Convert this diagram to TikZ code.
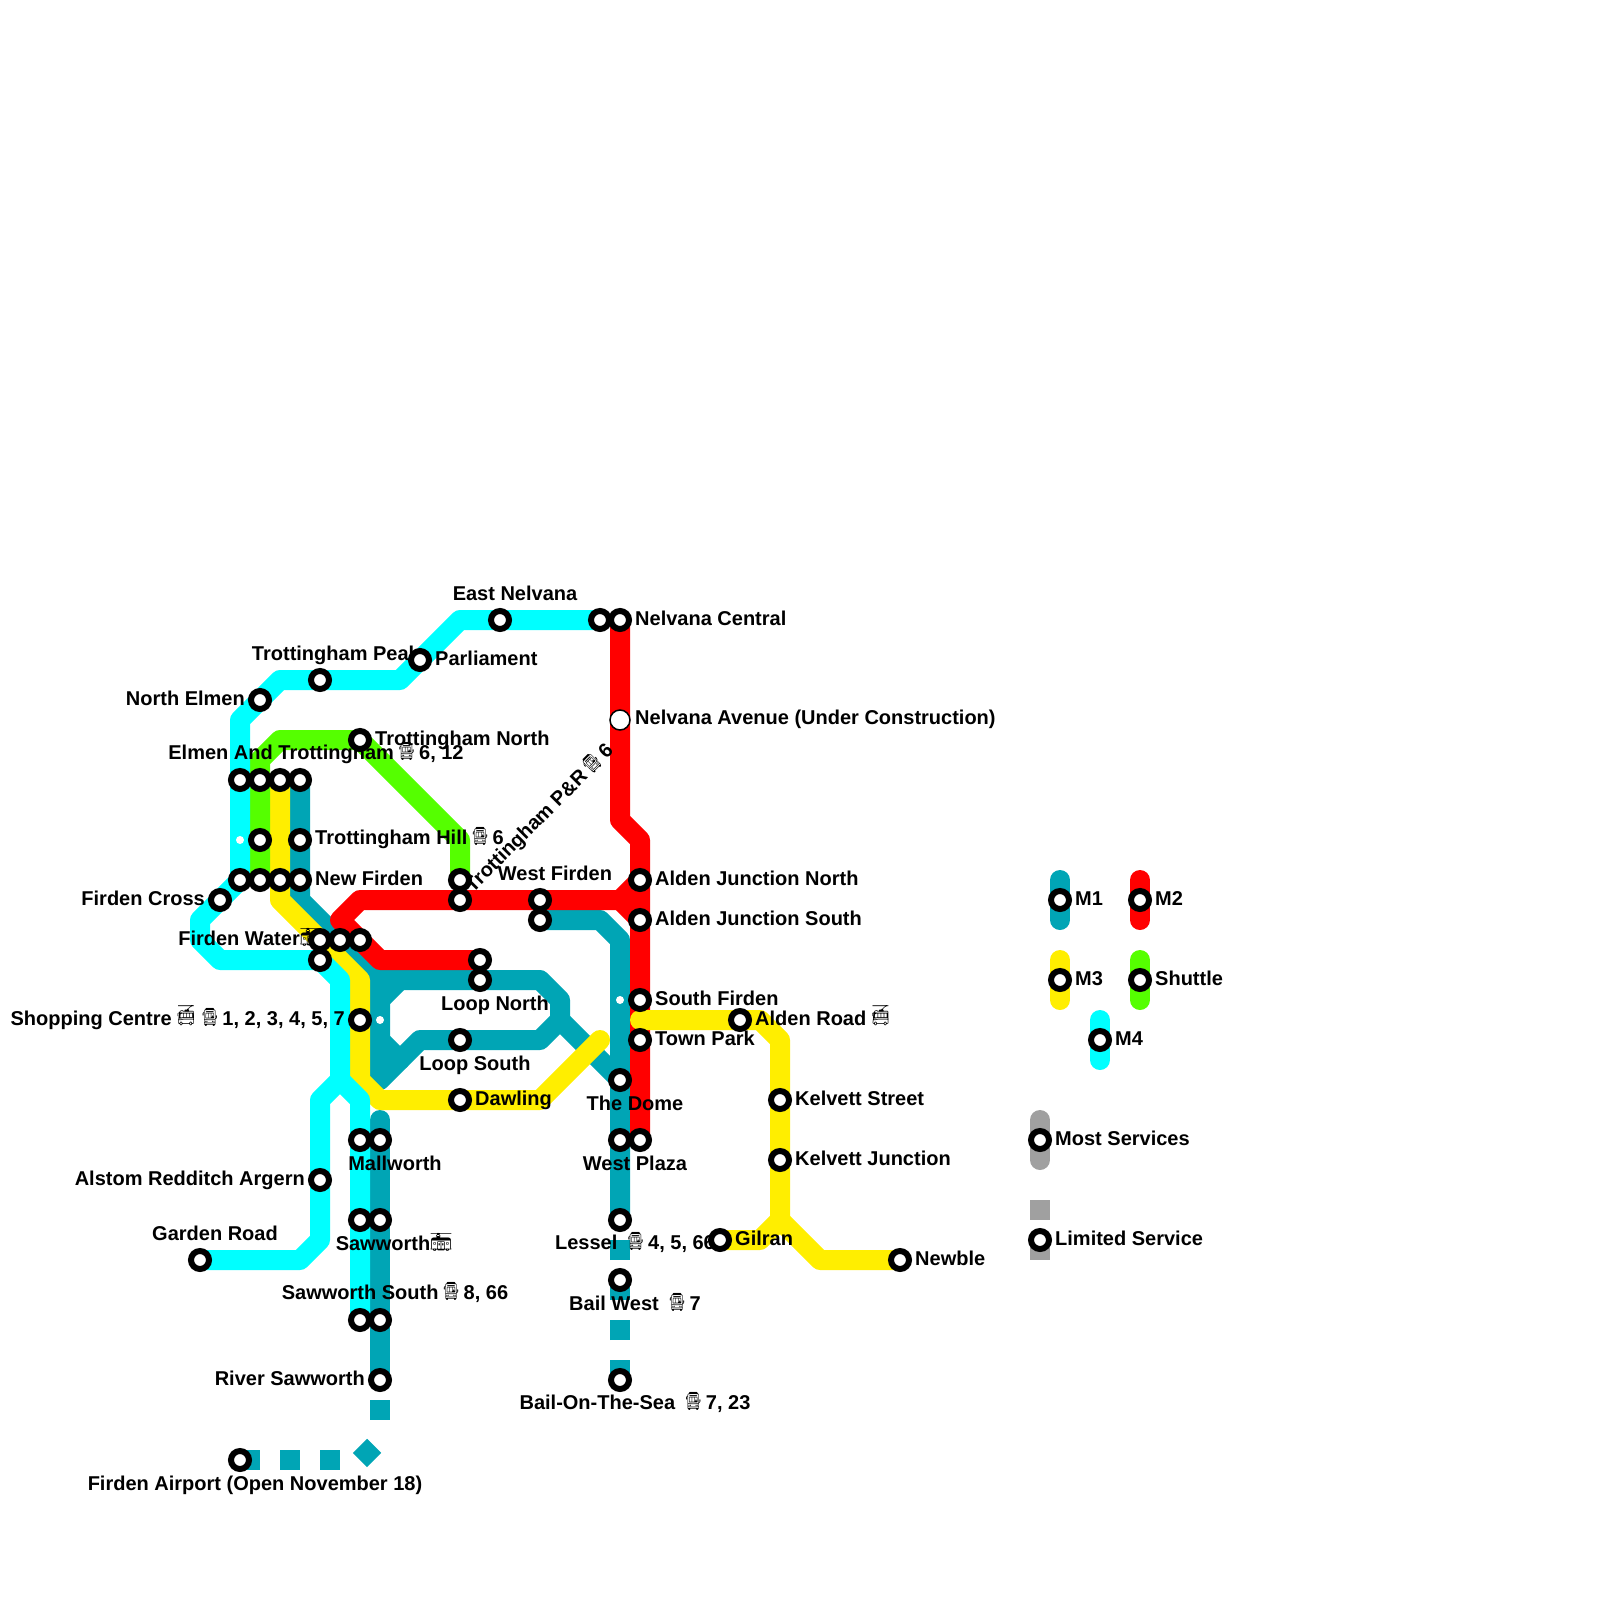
\documentclass[tikz,border=0pt]{standalone}
\usepackage{fontspec}
\setmainfont{Liberation Sans}[BoldFont={Liberation Sans Bold}]
\newfontfamily\emojifont{Noto Emoji}
\usepackage{xcolor}
\usetikzlibrary{positioning,backgrounds,calc}
\definecolor{lineone}{RGB}{0,165,181}
\definecolor{linetwo}{RGB}{255,0,0}
\definecolor{linethree}{RGB}{255,238,0}
\definecolor{lineshuttle}{RGB}{85,255,0}
\definecolor{linefour}{RGB}{0,255,255}
\definecolor{linegrey}{RGB}{160,160,160}
\newcommand{\glyphicon}[4]{\kern#3\raisebox{-1pt}[0pt][0pt]{\resizebox{#1}{#2}{\raisebox{\depth}{\emojifont\char#4}}}\kern#3}
\newcommand{\bus}{\glyphicon{16.5pt}{18pt}{-1.2pt}{"1F68D}}
\newcommand{\trolley}{\glyphicon{20pt}{20pt}{-1.5pt}{"1F68E}}
\newcommand{\tram}{\glyphicon{26pt}{18pt}{-2pt}{"1F68B}}

\begin{document}
\begin{tikzpicture}[x=1pt,y=-1pt,
  stn/.style={circle, draw=black, fill=white, line width=6pt, minimum size=18pt, inner sep=0pt},
  planned/.style={circle, draw=black, fill=white, line width=1.5pt, minimum size=20pt, inner sep=0pt},
  dotstn/.style={circle, fill=white, minimum size=8pt, inner sep=0pt},
  lbl/.style={font=\bfseries\fontsize{20}{22}\selectfont, inner sep=0pt, text=black},
  rt/.style={lbl, anchor=west},
  lt/.style={lbl, anchor=east},
  track/.style={line width=20pt, line join=round, line cap=round},
  sqtrack/.style={line width=20pt, line join=miter, dash pattern=on 20pt off 20pt}
]
\useasboundingbox (0,0) rectangle (1600,1600);

% labels
\node[rt] (lblNelvana) at (635,618) {Nelvana Central};
\node[lbl, anchor=center] (lblEast) at (515,593) {East Nelvana};
\node[rt] (lblParl) at (435,658) {Parliament};
\node[lbl, anchor=east] (lblPeak) at (420,655) {Trottingham Peak};
\node[lt] (lblNorth) at (245,698) {North Elmen};
\node[rt] (lblTrotN) at (375,740) {Trottingham North};
\node[rt] (lblAve) at (635,719) {Nelvana Avenue (Under Construction)};
\node[lbl, anchor=center] (lblElmen) at (316,754) {Elmen And Trottingham \bus\ 6, 12};
\node[rt] (lblHill) at (315,839) {Trottingham Hill \bus\ 6};
\node[rt] (lblNewFirden) at (315,878) {New Firden};
\node[lt] (lblCross) at (205,898) {Firden Cross};
\node[lbl, anchor=center, rotate=45] (lblPark) at (540,819) {Trottingham P\&R \bus\ 6};
\node[lbl, anchor=center] (lblWest) at (555,873) {West Firden};
\node[rt] (lblAldN) at (655,878) {Alden Junction North};
\node[rt] (lblAldS) at (655,918) {Alden Junction South};
\node[lt] (lblWater) at (322,938) {Firden Water\tram};
\node[rt] (lblSouth) at (655,998) {South Firden};
\node[lbl, anchor=center] (lblLoopN) at (495,1005) {Loop North};
\node[lt] (lblShop) at (345,1020) {Shopping Centre \trolley\ \hspace{3pt}\bus\ 1, 2, 3, 4, 5, 7};
\node[rt] (lblAlden) at (755,1018) {Alden Road \trolley};
\node[rt] (lblTown) at (655,1038) {Town Park};
\node[lbl, anchor=center] (lblLoopS) at (475,1065) {Loop South};
\node[rt] (lblDawl) at (475,1100) {Dawling};
\node[lbl, anchor=center] (lblDome) at (635,1103) {The Dome};
\node[rt] (lblKelS) at (795,1098) {Kelvett Street};
\node[lbl, anchor=center] (lblMall) at (395,1163) {Mallworth};
\node[lbl, anchor=center] (lblPlaza) at (635,1163) {West Plaza};
\node[lt] (lblAlst) at (305,1180) {Alstom Redditch Argern};
\node[rt] (lblKelJ) at (795,1158) {Kelvett Junction};
\node[lbl, anchor=center] (lblSaw) at (394,1243) {Sawworth\tram};
\node[lbl, anchor=center] (lblLess) at (635,1244) {Lessel\ \ \bus\ 4, 5, 66};
\node[rt] (lblGil) at (735,1238) {Gilran};
\node[lbl, anchor=center] (lblGarden) at (215,1233) {Garden Road};
\node[rt] (lblNewble) at (915,1258) {Newble};
\node[lbl, anchor=center] (lblSawS) at (395,1294) {Sawworth South \bus\ 8, 66};
\node[lbl, anchor=center] (lblBailW) at (635,1303) {Bail West\ \ \bus\ 7};
\node[lt] (lblRiver) at (365,1378) {River Sawworth};
\node[lbl, anchor=center] (lblBailS) at (635,1404) {Bail-On-The-Sea\ \ \bus\ 7, 23};
\node[lbl, anchor=center] (lblAir) at (255,1485) {Firden Airport (Open November 18)};
\node[rt] (lblM1) at (1075,899) {M1};
\node[rt] (lblM2) at (1155,899) {M2};
\node[rt] (lblM3) at (1075,979) {M3};
\node[rt] (lblShut) at (1155,978) {Shuttle};
\node[rt] (lblM4) at (1115,1039) {M4};
\node[rt] (lblMost) at (1055,1138) {Most Services};
\node[rt] (lblLim) at (1055,1238) {Limited Service};

% stations
\node[stn] (nelvanaW) at (600,620) {};
\node[stn] (nelvana) at (620,620) {};
\node[stn] (eastnel) at (500,620) {};
\node[stn] (parliament) at (420,660) {};
\node[stn] (peak) at (320,680) {};
\node[stn] (northelmen) at (260,700) {};
\node[stn] (trotnorth) at (360,740) {};
\node[planned] (nelvanaave) at (620,720) {};
\node[stn] (elmenA) at (240,780) {};
\node[stn] (elmenB) at (260,780) {};
\node[stn] (elmenC) at (280,780) {};
\node[stn] (elmenD) at (300,780) {};
\node[dotstn] (hillA) at (240,840) {};
\node[stn] (hillB) at (260,840) {};
\node[stn] (hillD) at (300,840) {};
\node[stn] (newfirA) at (240,880) {};
\node[stn] (newfirB) at (260,880) {};
\node[stn] (newfirC) at (280,880) {};
\node[stn] (newfirD) at (300,880) {};
\node[stn] (cross) at (220,900) {};
\node[stn] (parkA) at (460,880) {};
\node[stn] (parkB) at (460,900) {};
\node[stn] (westfirA) at (540,900) {};
\node[stn] (westfirB) at (540,920) {};
\node[stn] (aldenN) at (640,880) {};
\node[stn] (aldenS) at (640,920) {};
\node[stn] (waterA) at (320,940) {};
\node[stn] (waterB) at (340,940) {};
\node[stn] (waterC) at (360,940) {};
\node[stn] (waterD) at (320,960) {};
\node[stn] (loopnorthA) at (480,960) {};
\node[stn] (loopnorthB) at (480,980) {};
\node[dotstn] (southfirA) at (620,1000) {};
\node[stn] (southfir) at (640,1000) {};
\node[stn] (shopping) at (360,1020) {};
\node[dotstn] (shoppingB) at (380,1020) {};
\node[stn] (aldenroad) at (740,1020) {};
\node[stn] (loopsouth) at (460,1040) {};
\node[stn] (townpark) at (640,1040) {};
\node[stn] (dome) at (620,1080) {};
\node[stn] (dawling) at (460,1100) {};
\node[stn] (kelvettS) at (780,1100) {};
\node[stn] (mallA) at (360,1140) {};
\node[stn] (mallB) at (380,1140) {};
\node[stn] (plazaA) at (620,1140) {};
\node[stn] (plazaB) at (640,1140) {};
\node[stn] (kelvettJ) at (780,1160) {};
\node[stn] (alstom) at (320,1180) {};
\node[stn] (sawA) at (360,1220) {};
\node[stn] (sawB) at (380,1220) {};
\node[stn] (lessel) at (620,1220) {};
\node[stn] (gilran) at (720,1240) {};
\node[stn] (garden) at (200,1260) {};
\node[stn] (newble) at (900,1260) {};
\node[stn] (bailwest) at (620,1280) {};
\node[stn] (sawsouthA) at (360,1320) {};
\node[stn] (sawsouthB) at (380,1320) {};
\node[stn] (river) at (380,1380) {};
\node[stn] (bailsea) at (620,1380) {};
\node[stn] (airport) at (240,1460) {};
% key
\node[stn] (keyM1) at (1060,900) {};
\node[stn] (keyM2) at (1140,900) {};
\node[stn] (keyM3) at (1060,980) {};
\node[stn] (keyShuttle) at (1140,980) {};
\node[stn] (keyM4) at (1100,1040) {};
\node[stn] (keyMost) at (1040,1140) {};
\node[stn] (keyLimited) at (1040,1240) {};

% lines under the stations
\begin{scope}[on background layer]
\draw[track, lineone] (elmenD.center) -- (newfirD.center) -- (300,900) -- (380,980) -- (loopnorthB.center) -- (540,980) -- (560,1000) -- (560,1020) -- (540,1040) -- (420,1040) -- (380,1080) -- (380,980);
\draw[track, lineone] (380,1000) -- (400,980);
\draw[track, lineone] (380,1040) -- (400,1060);
\draw[track, lineone] (560,1020) -- (dome.center);
\draw[track, lineone] (westfirB.center) -- (600,920) -- (620,940) -- (lessel.center);
\draw[track, lineone] (380,1120) -- (river.center);
\draw[sqtrack, lineone] (bailsea.center) -- (lessel.center);
\draw[sqtrack, lineone, dash phase=20pt] (river.center) -- (380,1440);
\draw[sqtrack, lineone] (airport.center) -- (360,1460);
\draw[sqtrack, lineone] (360,1460) -- (380,1440);
\draw[track, linetwo] (nelvana.center) -- (620,820) -- (640,840) -- (plazaB.center);
\draw[track, linetwo] (aldenN.center) -- (620,900) -- (360,900) -- (340,920) -- (380,960) -- (loopnorthA.center);
\draw[track, linetwo] (aldenS.center) -- (620,900);
\draw[track, linethree] (elmenC.center) -- (280,900) -- (360,980) -- (360,1080) -- (380,1100) -- (540,1100) -- (600,1040);
\draw[track, linethree] (640,1020) -- (760,1020) -- (780,1040) -- (780,1220) -- (760,1240) -- (gilran.center);
\draw[track, linethree] (780,1220) -- (820,1260) -- (newble.center);
\draw[track, lineshuttle] (newfirB.center) -- (260,760) -- (280,740) -- (360,740) -- (460,840) -- (parkA.center);
\draw[track, linefour] (garden.center) -- (300,1260) -- (320,1240) -- (320,1100) -- (340,1080) -- (360,1100) -- (sawsouthA.center);
\draw[track, linefour] (340,1080) -- (340,980) -- (waterD.center) -- (220,960) -- (200,940) -- (200,920) -- (cross.center) -- (newfirA.center) -- (240,720) -- (260,700) -- (280,680) -- (400,680) -- (420,660) -- (460,620) -- (nelvanaW.center);
% key bars
\draw[track, lineone] (1060,880) -- (1060,920);
\draw[track, linetwo] (1140,880) -- (1140,920);
\draw[track, linethree] (1060,960) -- (1060,1000);
\draw[track, lineshuttle] (1140,960) -- (1140,1000);
\draw[track, linefour] (1100,1020) -- (1100,1060);
\draw[track, linegrey] (1040,1120) -- (1040,1160);
\draw[sqtrack, linegrey] (1040,1200) -- (1040,1260);
\end{scope}
\end{tikzpicture}
\end{document}
